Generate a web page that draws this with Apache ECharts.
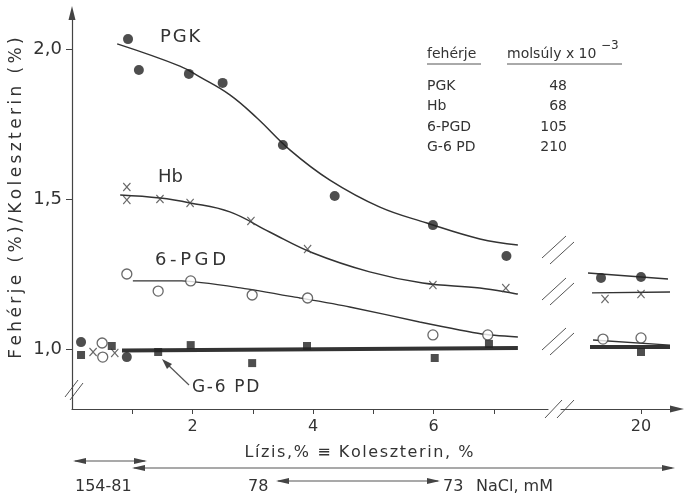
<!DOCTYPE html>
<html>
<head>
<meta charset="utf-8">
<script src="https://cdn.jsdelivr.net/npm/echarts@6/dist/echarts.min.js"></script>
<style>
  html, body { margin: 0; padding: 0; background: #fff; }
  #main { width: 685px; height: 499px; }
</style>
</head>
<body>
<div id="main"></div>
<script>
// measured points, [lysis %, ratio]
const pgkPoints = [[0.15, 1.023], [0.91, 0.973], [0.93, 2.033], [1.11, 1.93], [1.94, 1.917], [2.5, 1.887],
  [3.5, 1.68], [4.36, 1.51], [5.99, 1.413], [7.21, 1.31]];
const hbPoints = [[0.35, 0.99], [0.71, 0.987], [0.91, 1.54], [0.91, 1.497], [1.46, 1.5], [1.96, 1.487],
  [2.97, 1.427], [3.91, 1.333], [5.99, 1.213], [7.2, 1.203]];
const pgdPoints = [[0.5, 1.02], [0.51, 0.973], [0.91, 1.25], [1.43, 1.193], [1.97, 1.227], [2.99, 1.18],
  [3.91, 1.17], [5.99, 1.047], [6.9, 1.047]];
const g6pdPoints = [[0.15, 0.98], [0.66, 1.01], [1.43, 0.99], [1.97, 1.013], [2.99, 0.953], [3.9, 1.01],
  [6.02, 0.97], [6.92, 1.017]];

// the points past the axis break (20 %)
const pgkRight = [[18, 1.237], [20, 1.24]];
const hbRight = [[18.2, 1.167], [20, 1.183]];
const pgdRight = [[18.1, 1.033], [20, 1.037]];
const g6pdRight = [[20, 0.99]];

// fitted curves as drawn
const pgkCurve = [[0.75, 2.017], [1.79, 1.943], [2.12, 1.907], [2.62, 1.847], [3.07, 1.77], [3.62, 1.663],
  [4.28, 1.563], [5.11, 1.473], [5.89, 1.42], [6.77, 1.367], [7.4, 1.347]];
const hbCurve = [[0.8, 1.513], [1.46, 1.503], [1.96, 1.487], [2.62, 1.457], [3.28, 1.39], [4.0, 1.32],
  [4.94, 1.257], [5.82, 1.22], [6.77, 1.203], [7.4, 1.183]];
const pgdCurve = [[1.01, 1.227], [1.82, 1.227], [2.82, 1.203], [3.78, 1.17], [4.61, 1.14], [5.77, 1.09],
  [6.8, 1.05], [7.4, 1.04]];
const g6pdCurve = [[0.83, 0.995], [7.4, 1.003]];
const pgkRightLine = [[17.35, 1.253], [21.35, 1.233]];
const hbRightLine = [[17.55, 1.187], [21.45, 1.19]];
const pgdRightLine = [[17.6, 1.03], [21.45, 1.013]];
const g6pdRightLine = [[17.45, 1.007], [21.45, 1.007]];

const xTicks = [1, 2, 3, 4, 5, 6, 7];
const xLabels = [2, 4, 6];
const xRightLabels = [20];
const yLabels = [1.0, 1.5, 2.0];

const tableRows = ['PGK', 'Hb', '6-PGD', 'G-6 PD'];
const tableMol = ['48', '68', '105', '210'];

const ink = '#333';
const font = 'DejaVu Sans';
const crossPath = 'path://M0,1L1,0L5,4L9,0L10,1L6,5L10,9L9,10L5,6L1,10L0,9L4,5Z';

var myChart = echarts.init(document.getElementById('main'));

// the lettering in the figure is widely spaced
function spaced(s, gap) { return s.split('').join(gap); }
const THIN = '\u2009', HAIR = '\u200A';

function dots(data, axis, kind) {
  let s = { type: 'scatter', data: data, xAxisIndex: axis, yAxisIndex: axis, z: 5, silent: true };
  if (kind == 'filled') { s.symbol = 'circle'; s.symbolSize = 10; s.itemStyle = { color: '#222' }; }
  if (kind == 'cross') { s.symbol = crossPath; s.symbolSize = [8, 9]; s.itemStyle = { color: '#444' }; }
  if (kind == 'open') { s.symbol = 'circle'; s.symbolSize = 10; s.itemStyle = { color: '#fff', borderColor: '#444', borderWidth: 1.3 }; }
  if (kind == 'square') { s.symbol = 'rect'; s.symbolSize = 8; s.itemStyle = { color: '#222' }; }
  return s;
}
function curve(data, axis, width, smooth) {
  return {
    type: 'line', data: data, xAxisIndex: axis, yAxisIndex: axis, showSymbol: false, smooth: smooth,
    lineStyle: { color: ink, width: width }, silent: true, z: 3
  };
}
function seg(x1, y1, x2, y2, w) {
  return { type: 'line', shape: { x1: x1, y1: y1, x2: x2, y2: y2 }, style: { stroke: '#555', lineWidth: w || 1 } };
}
function txt(x, y, s, size, align) {
  return { type: 'text', x: x, y: y, style: { text: s, fill: ink, font: size + 'px "' + font + '"', textAlign: align || 'left', textVerticalAlign: 'middle' } };
}
function head(x, y, dir) {
  // small filled arrow head, dir = 1 points right, -1 points left
  return { type: 'polygon', shape: { points: [[x, y], [x - dir * 13, y - 3], [x - dir * 13, y + 3]] }, style: { fill: '#444' } };
}

let yTitle = txt(0, 0, spaced('Fehérje (%)/Koleszterin (%)', THIN), 17, 'center');
yTitle.x = 17; yTitle.y = 198; yTitle.rotation = Math.PI / 2;

let graphics = [
  // axis and curve breaks
  seg(65, 397, 78, 380), seg(70, 400, 83, 383),
  seg(542, 258, 566, 236), seg(550, 264, 574, 242),
  seg(542, 300, 566, 278), seg(550, 305, 574, 283),
  seg(542, 350, 566, 328), seg(550, 355, 574, 333),
  seg(545, 418, 562, 400), seg(557, 418, 574, 400),
  // series labels
  txt(160, 37, spaced('PGK', HAIR), 18), txt(158, 177, 'Hb', 18), txt(155, 260, spaced('6-PGD', THIN), 18),
  txt(192, 388, spaced('G-6 PD', HAIR), 17),
  seg(189, 385, 165, 362, 1.2),
  { type: 'polygon', shape: { points: [[162, 359], [172, 364], [167, 369]] }, style: { fill: '#444' } },
  // table
  txt(427, 54, 'fehérje', 14), txt(507, 54, 'molsúly x 10', 14), txt(601, 46, '−3', 12),
  seg(427, 64, 481, 64), seg(507, 64, 622, 64),
  // axis titles and NaCl scale
  yTitle,
  txt(359, 453, spaced('Lízis,% ≡ Koleszterin, %', HAIR), 16, 'center'),
  seg(75, 461, 145, 461, 1.2), head(73, 461, -1), head(147, 461, 1),
  seg(134, 468, 672, 468, 1.2), head(132, 468, -1), head(675, 468, 1),
  seg(278, 481, 438, 481, 1.2), head(276, 481, -1), head(440, 481, 1),
  txt(75, 487, '154-81', 16), txt(248, 487, '78', 16), txt(443, 487, '73', 16), txt(476, 487, 'NaCl, mM', 16)
];
tableRows.forEach((r, i) => {
  let y = 86 + i * 20.5;
  graphics.push(txt(427, y, r, 14));
  graphics.push(txt(567, y, tableMol[i], 14, 'right'));
});

const axisText = { color: ink, fontFamily: font };

myChart.setOption({
  backgroundColor: '#fff',
  animation: false,
  grid: [
    { left: 72, top: 13, width: 476, height: 396 },
    { left: 561, top: 13, width: 116, height: 396 }
  ],
  xAxis: [
    {
      gridIndex: 0, type: 'value', min: 0, max: 7.9,
      splitLine: { show: false },
      axisLine: { lineStyle: { color: '#444', width: 1.2 } },
      axisTick: { customValues: xTicks, length: 5, lineStyle: { color: '#444' } },
      axisLabel: Object.assign({ customValues: xLabels, fontSize: 16, margin: 10 }, axisText)
    },
    {
      gridIndex: 1, type: 'value', min: 16, max: 21.8,
      splitLine: { show: false },
      axisLine: { symbol: ['none', 'triangle'], symbolSize: [7, 14], lineStyle: { color: '#444', width: 1.2 } },
      axisTick: { customValues: xRightLabels, length: 5, lineStyle: { color: '#444' } },
      axisLabel: Object.assign({ customValues: xRightLabels, fontSize: 16, margin: 10 }, axisText)
    }
  ],
  yAxis: [
    {
      gridIndex: 0, type: 'value', min: 0.8, max: 2.12,
      splitLine: { show: false },
      axisLine: { symbol: ['none', 'triangle'], symbolSize: [7, 14], lineStyle: { color: '#444', width: 1.2 } },
      axisTick: { customValues: yLabels, length: 6, lineStyle: { color: '#444' } },
      axisLabel: Object.assign({ customValues: yLabels, fontSize: 18, margin: 10,
        formatter: v => v.toFixed(1).replace('.', ',') }, axisText)
    },
    { gridIndex: 1, type: 'value', min: 0.8, max: 2.12, show: false }
  ],
  series: [
    curve(pgkCurve, 0, 1.5, 0.4), curve(hbCurve, 0, 1.5, 0.4), curve(pgdCurve, 0, 1.3, 0.2), curve(g6pdCurve, 0, 4, false),
    curve(pgkRightLine, 1, 1.5, false), curve(hbRightLine, 1, 1.3, false), curve(pgdRightLine, 1, 1.3, false), curve(g6pdRightLine, 1, 4, false),
    dots(pgkPoints, 0, 'filled'), dots(hbPoints, 0, 'cross'), dots(pgdPoints, 0, 'open'), dots(g6pdPoints, 0, 'square'),
    dots(pgkRight, 1, 'filled'), dots(hbRight, 1, 'cross'), dots(pgdRight, 1, 'open'), dots(g6pdRight, 1, 'square')
  ],
  graphic: graphics
});
</script>
</body>
</html>
